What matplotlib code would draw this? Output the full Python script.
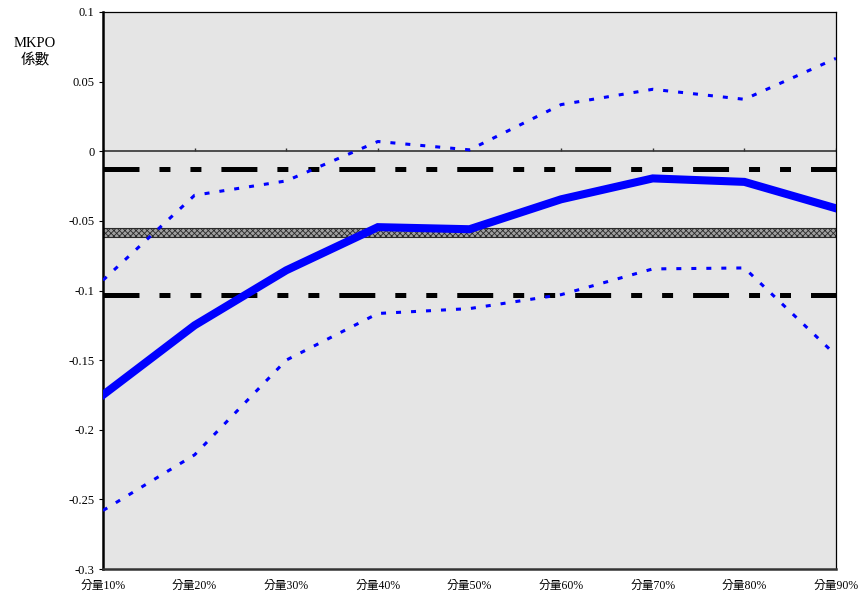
import numpy as np
import matplotlib
matplotlib.use("Agg")
import matplotlib.pyplot as plt

plt.rcParams["font.family"] = ["Liberation Serif", "Noto Sans CJK TC"]
plt.rcParams["lines.scale_dashes"] = False
plt.rcParams["hatch.linewidth"] = 0.6

categories = ["分量10%", "分量20%", "分量30%", "分量40%", "分量50%",
              "分量60%", "分量70%", "分量80%", "分量90%"]
coef = [-0.175, -0.125, -0.0855, -0.0545, -0.0560, -0.0345, -0.0195, -0.0220, -0.0410]
upper = [-0.0926, -0.0316, -0.0213, 0.0070, 0.0010, 0.0335, 0.0445, 0.0373, 0.0667]
lower = [-0.258, -0.218, -0.150, -0.1165, -0.1130, -0.1030, -0.0845, -0.0838, -0.1465]

ols_upper = -0.0131
ols_lower = -0.1034
ols_band = (-0.0618, -0.0553)

yticks = [0.1, 0.05, 0, -0.05, -0.1, -0.15, -0.2, -0.25, -0.3]
ytick_labels = ["0.1", "0.05", "0", "-0.05", "-0.1", "-0.15", "-0.2", "-0.25", "-0.3"]

x = np.arange(len(categories))

fig = plt.figure(figsize=(8.59, 5.99), dpi=100)
ax = fig.add_axes([103 / 859, 1 - 569 / 599, 733 / 859, 557 / 599])
ax.set_facecolor("#e5e5e5")

# OLS band and zero line
ax.axhspan(ols_band[0], ols_band[1], facecolor="#a0a0a0", edgecolor="#2a2a2a",
           hatch="xxxxxx", linewidth=0.8, zorder=2)
ax.axhline(0, color="#333333", linewidth=1.2, zorder=2)
ax.vlines(x, 0, 0.0025, color="#333333", linewidth=1.0, zorder=2)

# dash-dot reference lines (long, short, short)
dashdot = (0, (25.9, 14.4, 7.9, 14.4, 7.9, 14.4))
for yv in [ols_upper, ols_lower]:
    ax.plot([x[0], x[-1]], [yv, yv], color="black", linewidth=3.6,
            linestyle=dashdot, dash_capstyle="butt", zorder=3)

ax.plot(x, upper, color="#0000ff", linewidth=2.2, linestyle=(0, (3.6, 7.2)),
        dash_capstyle="butt", zorder=4)
ax.plot(x, lower, color="#0000ff", linewidth=2.2, linestyle=(0, (3.6, 7.2)),
        dash_capstyle="butt", zorder=4)
ax.plot(x, coef, color="#0000ff", linewidth=5.8, solid_joinstyle="miter", zorder=5)

ax.set_xlim(0, len(categories) - 1)
ax.set_ylim(-0.3, 0.1)
ax.set_yticks(yticks)
ax.set_yticklabels(ytick_labels, fontsize=9)
ax.set_xticks(x)
ax.set_xticklabels(categories, fontsize=8.5)
ax.tick_params(axis="x", length=0, pad=8)
ax.tick_params(axis="y", length=3, width=0.8, pad=3, direction="out")

ax.spines["left"].set_linewidth(1.8)
ax.spines["bottom"].set_linewidth(1.8)
ax.spines["bottom"].set_color("#333333")
ax.spines["right"].set_linewidth(0.9)
ax.spines["top"].set_linewidth(0.9)

fig.text(35 / 859, 1 - 52 / 599, "MKPO\n係數", ha="center", va="center",
         fontsize=10.5, linespacing=1.25)

fig.savefig("out.png", dpi=100)
